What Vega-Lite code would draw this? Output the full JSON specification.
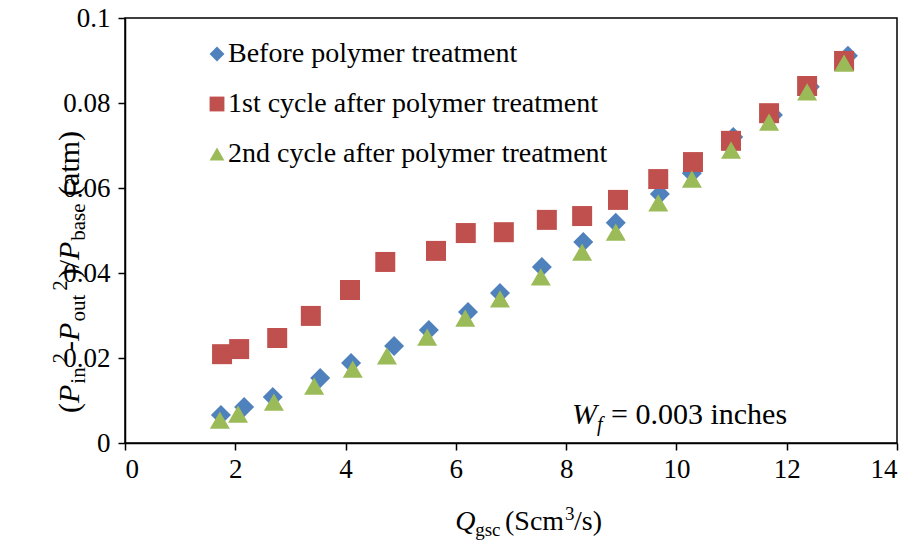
{
  "$schema": "https://vega.github.io/schema/vega-lite/v6.json",
  "width": 772,
  "height": 425,
  "autosize": {"type": "none"},
  "padding": {"left": 125, "top": 18, "right": 17, "bottom": 111},
  "background": "white",
  "config": {
    "view": {"stroke": "black", "strokeWidth": 1.5},
    "font": "Liberation Serif, Times New Roman, serif",
    "style": {"guide-label": {"font": "Liberation Serif, Times New Roman, serif", "fill": "black"}},
    "axis": {
      "grid": false,
      "domainColor": "black",
      "domainWidth": 1.5,
      "tickColor": "black",
      "tickWidth": 1.5,
      "tickSize": 7,
      "labelColor": "black",
      "labelFont": "Liberation Serif, Times New Roman, serif",
      "labelFontSize": 27,
      "title": null
    },
    "axisX": {"labelPadding": 6},
    "axisY": {"labelPadding": 8},
    "text": {"font": "Liberation Serif, Times New Roman, serif", "color": "black", "align": "left", "baseline": "alphabetic"}
  },
  "data": {
    "values": [
      {"series": "Before polymer treatment", "Q": 1.74, "dP": 0.0066},
      {"series": "Before polymer treatment", "Q": 2.16, "dP": 0.0085},
      {"series": "Before polymer treatment", "Q": 2.68, "dP": 0.0108},
      {"series": "Before polymer treatment", "Q": 3.54, "dP": 0.0153},
      {"series": "Before polymer treatment", "Q": 4.10, "dP": 0.0188},
      {"series": "Before polymer treatment", "Q": 4.88, "dP": 0.0228},
      {"series": "Before polymer treatment", "Q": 5.51, "dP": 0.0266},
      {"series": "Before polymer treatment", "Q": 6.22, "dP": 0.0308},
      {"series": "Before polymer treatment", "Q": 6.80, "dP": 0.0353},
      {"series": "Before polymer treatment", "Q": 7.56, "dP": 0.0414},
      {"series": "Before polymer treatment", "Q": 8.31, "dP": 0.0473},
      {"series": "Before polymer treatment", "Q": 8.90, "dP": 0.0518},
      {"series": "Before polymer treatment", "Q": 9.70, "dP": 0.0586},
      {"series": "Before polymer treatment", "Q": 10.28, "dP": 0.0635},
      {"series": "Before polymer treatment", "Q": 11.03, "dP": 0.0720},
      {"series": "Before polymer treatment", "Q": 11.75, "dP": 0.0772},
      {"series": "Before polymer treatment", "Q": 12.42, "dP": 0.0838},
      {"series": "Before polymer treatment", "Q": 13.11, "dP": 0.0911},
      {"series": "1st cycle after polymer treatment", "Q": 1.76, "dP": 0.0209},
      {"series": "1st cycle after polymer treatment", "Q": 2.07, "dP": 0.0221},
      {"series": "1st cycle after polymer treatment", "Q": 2.76, "dP": 0.0247},
      {"series": "1st cycle after polymer treatment", "Q": 3.37, "dP": 0.0299},
      {"series": "1st cycle after polymer treatment", "Q": 4.08, "dP": 0.0360},
      {"series": "1st cycle after polymer treatment", "Q": 4.72, "dP": 0.0426},
      {"series": "1st cycle after polymer treatment", "Q": 5.64, "dP": 0.0452},
      {"series": "1st cycle after polymer treatment", "Q": 6.18, "dP": 0.0494},
      {"series": "1st cycle after polymer treatment", "Q": 6.87, "dP": 0.0496},
      {"series": "1st cycle after polymer treatment", "Q": 7.65, "dP": 0.0525},
      {"series": "1st cycle after polymer treatment", "Q": 8.29, "dP": 0.0534},
      {"series": "1st cycle after polymer treatment", "Q": 8.94, "dP": 0.0572},
      {"series": "1st cycle after polymer treatment", "Q": 9.67, "dP": 0.0621},
      {"series": "1st cycle after polymer treatment", "Q": 10.30, "dP": 0.0661},
      {"series": "1st cycle after polymer treatment", "Q": 10.99, "dP": 0.0711},
      {"series": "1st cycle after polymer treatment", "Q": 11.68, "dP": 0.0776},
      {"series": "1st cycle after polymer treatment", "Q": 12.37, "dP": 0.0840},
      {"series": "1st cycle after polymer treatment", "Q": 13.04, "dP": 0.0899},
      {"series": "2nd cycle after polymer treatment", "Q": 1.72, "dP": 0.0054},
      {"series": "2nd cycle after polymer treatment", "Q": 2.05, "dP": 0.0068},
      {"series": "2nd cycle after polymer treatment", "Q": 2.70, "dP": 0.0096},
      {"series": "2nd cycle after polymer treatment", "Q": 3.43, "dP": 0.0134},
      {"series": "2nd cycle after polymer treatment", "Q": 4.13, "dP": 0.0174},
      {"series": "2nd cycle after polymer treatment", "Q": 4.75, "dP": 0.0205},
      {"series": "2nd cycle after polymer treatment", "Q": 5.48, "dP": 0.0249},
      {"series": "2nd cycle after polymer treatment", "Q": 6.17, "dP": 0.0294},
      {"series": "2nd cycle after polymer treatment", "Q": 6.80, "dP": 0.0339},
      {"series": "2nd cycle after polymer treatment", "Q": 7.54, "dP": 0.0391},
      {"series": "2nd cycle after polymer treatment", "Q": 8.29, "dP": 0.0449},
      {"series": "2nd cycle after polymer treatment", "Q": 8.90, "dP": 0.0496},
      {"series": "2nd cycle after polymer treatment", "Q": 9.67, "dP": 0.0565},
      {"series": "2nd cycle after polymer treatment", "Q": 10.28, "dP": 0.0621},
      {"series": "2nd cycle after polymer treatment", "Q": 10.99, "dP": 0.0689},
      {"series": "2nd cycle after polymer treatment", "Q": 11.68, "dP": 0.0755},
      {"series": "2nd cycle after polymer treatment", "Q": 12.37, "dP": 0.0826},
      {"series": "2nd cycle after polymer treatment", "Q": 13.04, "dP": 0.0894}
    ]
  },
  "layer": [
    {
      "mark": {"type": "point", "filled": true, "opacity": 1, "size": 400},
      "encoding": {
        "x": {"field": "Q", "type": "quantitative", "scale": {"domain": [0, 14], "nice": false}, "axis": {"values": [0, 2, 4, 6, 8, 10, 12, 14], "format": "d", "title": null, "labelFont": "Liberation Serif, Times New Roman, serif"}},
        "y": {"field": "dP", "type": "quantitative", "scale": {"domain": [0, 0.1], "nice": false}, "axis": {"values": [0, 0.02, 0.04, 0.06, 0.08, 0.1], "format": "~g", "title": null, "labelFont": "Liberation Serif, Times New Roman, serif"}},
        "color": {
          "field": "series", "type": "nominal",
          "scale": {"domain": ["Before polymer treatment", "1st cycle after polymer treatment", "2nd cycle after polymer treatment"], "range": ["#4F81BD", "#C0504D", "#9BBB59"]},
          "legend": {
            "title": null, "orient": "none", "legendX": 78, "legendY": 22,
            "labelFont": "Liberation Serif, Times New Roman, serif", "labelFontSize": 28, "labelColor": "black",
            "symbolSize": 220, "symbolStrokeWidth": 0, "labelOffset": -3, "rowPadding": 22, "labelLimit": 600
          }
        },
        "shape": {
          "field": "series", "type": "nominal",
          "scale": {"domain": ["Before polymer treatment", "1st cycle after polymer treatment", "2nd cycle after polymer treatment"], "range": ["diamond", "square", "triangle-up"]},
          "legend": null
        }
      }
    },
    {"data": {"values": [{}]}, "mark": {"type": "text", "text": "Q", "fontSize": 28, "fontStyle": "italic"}, "encoding": {"x": {"datum": 5.988}, "y": {"datum": -0.02047}}},
    {"data": {"values": [{}]}, "mark": {"type": "text", "text": "gsc", "fontSize": 19}, "encoding": {"x": {"datum": 6.351}, "y": {"datum": -0.02188}}},
    {"data": {"values": [{}]}, "mark": {"type": "text", "text": "(Scm", "fontSize": 28}, "encoding": {"x": {"datum": 6.892}, "y": {"datum": -0.02047}}},
    {"data": {"values": [{}]}, "mark": {"type": "text", "text": "3", "fontSize": 19}, "encoding": {"x": {"datum": 7.980}, "y": {"datum": -0.01812}}},
    {"data": {"values": [{}]}, "mark": {"type": "text", "text": "/s)", "fontSize": 28}, "encoding": {"x": {"datum": 8.143}, "y": {"datum": -0.02047}}},
    {"data": {"values": [{}]}, "mark": {"type": "text", "text": "(", "fontSize": 30, "angle": 270}, "encoding": {"x": {"datum": -0.8342}, "y": {"datum": 0.007059}}},
    {"data": {"values": [{}]}, "mark": {"type": "text", "text": "P", "fontSize": 30, "fontStyle": "italic", "angle": 270}, "encoding": {"x": {"datum": -0.8342}, "y": {"datum": 0.009412}}},
    {"data": {"values": [{}]}, "mark": {"type": "text", "text": "in", "fontSize": 21, "angle": 270}, "encoding": {"x": {"datum": -0.7254}, "y": {"datum": 0.013953}}},
    {"data": {"values": [{}]}, "mark": {"type": "text", "text": "2", "fontSize": 21, "angle": 270}, "encoding": {"x": {"datum": -1.0519}, "y": {"datum": 0.018729}}},
    {"data": {"values": [{}]}, "mark": {"type": "text", "text": "-", "fontSize": 30, "angle": 270}, "encoding": {"x": {"datum": -0.8342}, "y": {"datum": 0.021671}}},
    {"data": {"values": [{}]}, "mark": {"type": "text", "text": "P", "fontSize": 30, "fontStyle": "italic", "angle": 270}, "encoding": {"x": {"datum": -0.8342}, "y": {"datum": 0.024024}}},
    {"data": {"values": [{}]}, "mark": {"type": "text", "text": "out", "fontSize": 21, "angle": 270}, "encoding": {"x": {"datum": -0.7254}, "y": {"datum": 0.028565}}},
    {"data": {"values": [{}]}, "mark": {"type": "text", "text": "2", "fontSize": 21, "angle": 270}, "encoding": {"x": {"datum": -1.0519}, "y": {"datum": 0.035812}}},
    {"data": {"values": [{}]}, "mark": {"type": "text", "text": ")/", "fontSize": 30, "angle": 270}, "encoding": {"x": {"datum": -0.8342}, "y": {"datum": 0.038753}}},
    {"data": {"values": [{}]}, "mark": {"type": "text", "text": "P", "fontSize": 30, "fontStyle": "italic", "angle": 270}, "encoding": {"x": {"datum": -0.8342}, "y": {"datum": 0.043059}}},
    {"data": {"values": [{}]}, "mark": {"type": "text", "text": "base", "fontSize": 21, "angle": 270}, "encoding": {"x": {"datum": -0.7254}, "y": {"datum": 0.047600}}},
    {"data": {"values": [{}]}, "mark": {"type": "text", "text": "(atm)", "fontSize": 30, "angle": 270}, "encoding": {"x": {"datum": -0.8342}, "y": {"datum": 0.058141}}},
    {"data": {"values": [{}]}, "mark": {"type": "text", "text": "W", "fontSize": 30, "fontStyle": "italic"}, "encoding": {"x": {"datum": 8.107}, "y": {"datum": 0.004471}}},
    {"data": {"values": [{}]}, "mark": {"type": "text", "text": "f", "fontSize": 20, "fontStyle": "italic"}, "encoding": {"x": {"datum": 8.560}, "y": {"datum": 0.002824}}},
    {"data": {"values": [{}]}, "mark": {"type": "text", "text": "= 0.003 inches", "fontSize": 30}, "encoding": {"x": {"datum": 8.814}, "y": {"datum": 0.004471}}}
  ]
}
